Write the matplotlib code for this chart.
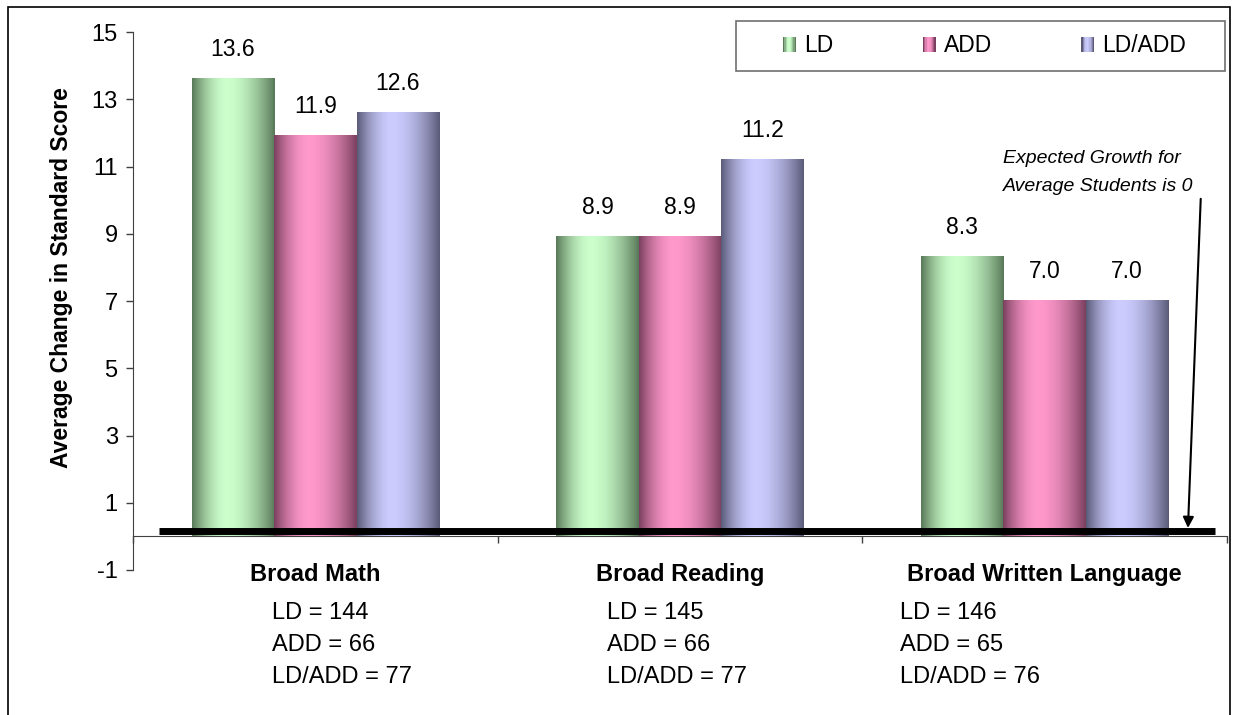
import numpy as np
import matplotlib.pyplot as plt
from matplotlib.patches import Rectangle
from matplotlib.legend_handler import HandlerBase
from matplotlib.colors import to_rgb

plt.rcParams['font.family'] = ['Liberation Sans', 'DejaVu Sans']
plt.rcParams['axes.unicode_minus'] = False

categories = ['Broad Math', 'Broad Reading', 'Broad Written Language']
groups = ['LD', 'ADD', 'LD/ADD']
ld = [13.6, 8.9, 8.3]
add = [11.9, 8.9, 7.0]
ld_add = [12.6, 11.2, 7.0]
n_ld = [144, 145, 146]
n_add = [66, 66, 65]
n_ld_add = [77, 77, 76]

# dark edge / light centre for the cylinder-like shading
shades = {
    'LD': ('#587858', '#ccffcc'),
    'ADD': ('#7a3f5e', '#ff99cc'),
    'LD/ADD': ('#5a5a78', '#ccccff'),
}


def ramp(dark, light, n=256, peak=0.42):
    t = np.linspace(0, 1, n)
    d = np.where(t < peak, (peak - t) / peak, (t - peak) / (1 - peak))
    f = 1 - d ** 1.8
    dark = np.array(to_rgb(dark))
    light = np.array(to_rgb(light))
    return dark + (light - dark) * f[:, None]


class GradientHandler(HandlerBase):
    def __init__(self, colors):
        super().__init__()
        self.colors = colors

    def create_artists(self, legend, orig_handle, xdescent, ydescent,
                       width, height, fontsize, trans):
        n = len(self.colors)
        return [Rectangle((-xdescent + width * k / n, -ydescent), width / n, height,
                          facecolor=c, edgecolor='none', transform=trans)
                for k, c in enumerate(self.colors)]


fig = plt.figure(figsize=(12.36, 7.15), dpi=100)
ax = fig.add_axes([0.1076, 0.2028, 0.8851, 0.7524])

x = np.arange(len(categories))
w = 0.226
containers = []
handler_map = {}
for i, (name, vals) in enumerate(zip(groups, [ld, add, ld_add])):
    bars = ax.bar(x + (i - 1) * w, vals, w, color='none', label=name)
    containers.append(bars)
    handler_map[bars] = GradientHandler(ramp(*shades[name], n=10))
    img = ramp(*shades[name])[None, :, :]
    for b, v in zip(bars, vals):
        ax.imshow(img, extent=(b.get_x(), b.get_x() + b.get_width(), 0, b.get_height()),
                  aspect='auto', interpolation='bilinear', zorder=2)
        ax.annotate(f'{v:.1f}', (b.get_x() + b.get_width() / 2, v), xytext=(0, 13),
                    textcoords='offset points', ha='center', va='bottom', fontsize=16.5)

# heavy baseline drawn over the bar bottoms
ax.plot([-0.4287, 2.467], [0.149, 0.149], color='black', lw=5,
        solid_capstyle='butt', zorder=3)

ax.set_xlim(-0.5, 2.5)
ax.set_ylim(-1, 15)
ax.set_yticks(np.arange(-1, 16, 2))
ax.set_xticks([-0.5, 0.5, 1.5, 2.5])
ax.set_xticklabels([])
ax.spines['top'].set_visible(False)
ax.spines['right'].set_visible(False)
ax.spines['bottom'].set_position(('data', 0))
for s in ('left', 'bottom'):
    ax.spines[s].set_color('#404040')
ax.tick_params(axis='y', direction='out', length=5, width=1, labelsize=17, pad=6,
               color='#404040')
ax.tick_params(axis='x', direction='out', length=5, width=1, color='#404040')

ax.set_ylabel('Average Change in Standard Score', fontsize=16.5, fontweight='bold')
ax.yaxis.set_label_coords(-0.055, 0.5437)

# category names and sample sizes under the axis
offsets = [-0.119, -0.200, -0.397]
for i, cat in enumerate(categories):
    ax.text(i, -1.323, cat, ha='center', va='baseline', fontsize=17,
            fontweight='bold', clip_on=False)
    lines = [f'LD = {n_ld[i]}', f'ADD = {n_add[i]}', f'LD/ADD = {n_ld_add[i]}']
    for line, y in zip(lines, [-2.453, -3.405, -4.357]):
        ax.text(i + offsets[i], y, line, ha='left', va='baseline', fontsize=17,
                clip_on=False)

ax.text(1.886, 11.11, 'Expected Growth for', style='italic', fontsize=14, va='baseline')
ax.text(1.886, 10.275, 'Average Students is 0', style='italic', fontsize=14, va='baseline')
ax.annotate('', xy=(2.393, 0.25), xytext=(2.428, 10.04),
            arrowprops=dict(arrowstyle='-|>', color='black', lw=1.5, mutation_scale=16,
                            shrinkA=0, shrinkB=0))

ax.legend(handles=containers, labels=groups, handler_map=handler_map, ncol=3,
          frameon=False, loc='center left', bbox_to_anchor=(783 / 1236, 1 - 46 / 715),
          bbox_transform=fig.transFigure, borderpad=0, borderaxespad=0,
          handlelength=0.57, handleheight=0.65, handletextpad=0.35,
          columnspacing=3.9, fontsize=16.5)
fig.add_artist(Rectangle((736 / 1236, 1 - 71 / 715), 489 / 1236, 50 / 715,
                         transform=fig.transFigure, fill=False, edgecolor='#707070', lw=1.2))

# outer border
fig.add_artist(Rectangle((8 / 1236, -0.02), 1222 / 1236, 1.02 - 7 / 715,
                         transform=fig.transFigure, fill=False, edgecolor='black', lw=1.2))

fig.savefig('out.png', dpi=100)
